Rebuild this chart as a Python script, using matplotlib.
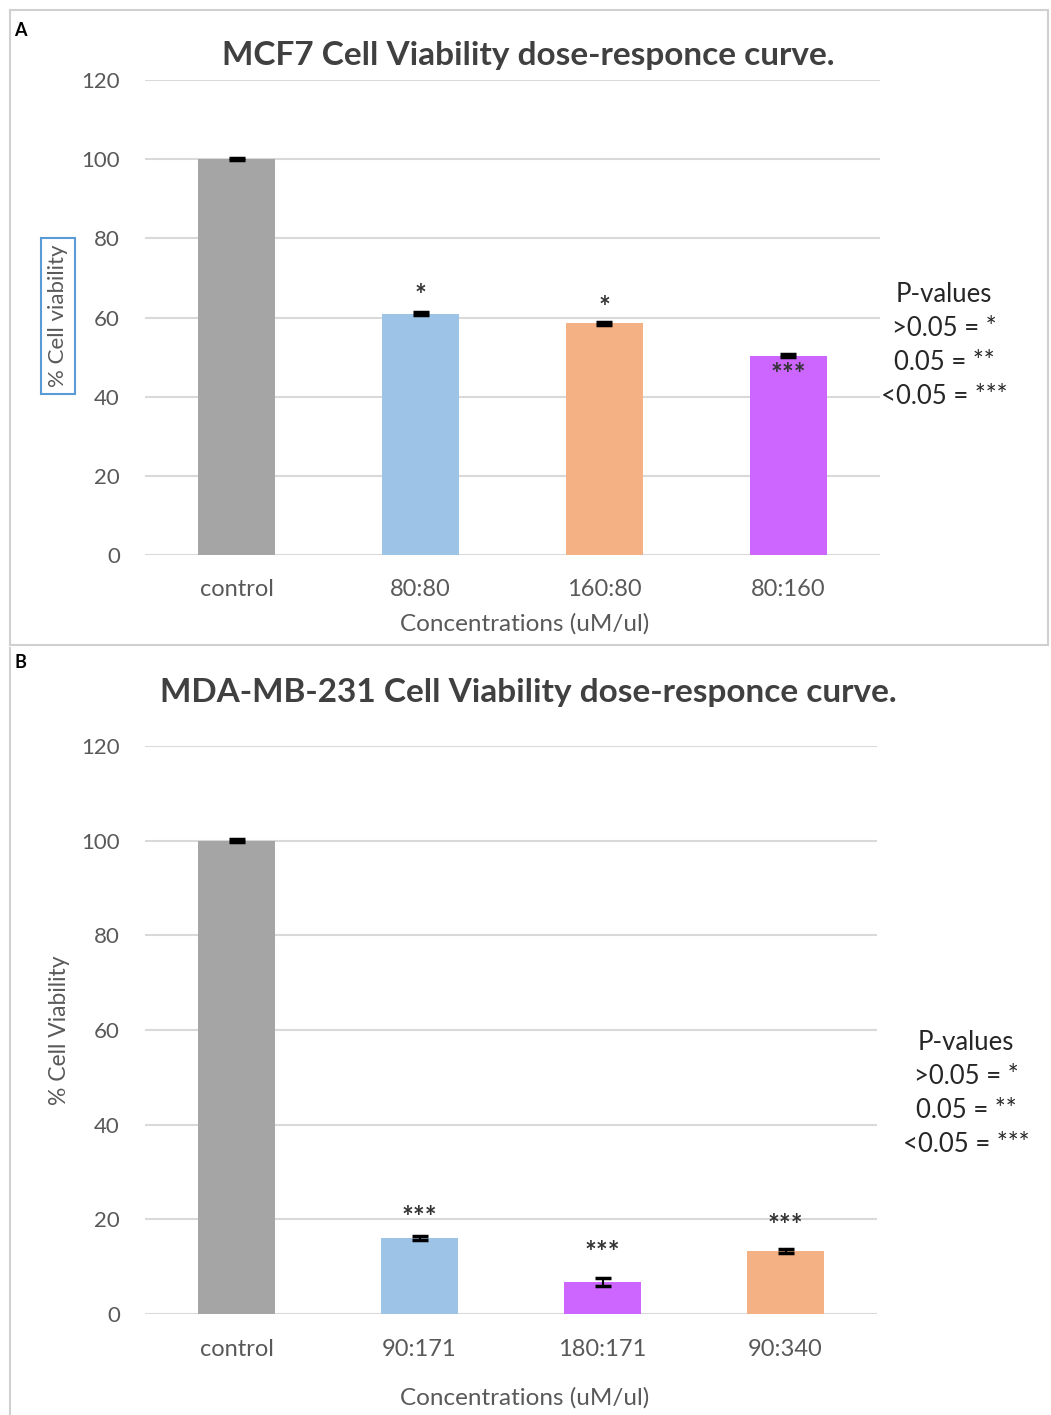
import numpy as np
import matplotlib.pyplot as plt
from matplotlib.patches import Rectangle
from matplotlib.lines import Line2D

plt.rcParams['font.family'] = ['Lato', 'DejaVu Sans']

# Panel A data (MCF7)
cats_a = ['control', '80:80', '160:80', '80:160']
vals_a = [100, 61, 58.5, 50.3]
errs_a = [0.3, 0.4, 0.4, 0.4]
sig_a = ['', '*', '*', '***']
sig_pos_a = [None, 65.5, 62.5, 45.5]

# Panel B data (MDA-MB-231)
cats_b = ['control', '90:171', '180:171', '90:340']
vals_b = [100, 16, 6.8, 13.3]
errs_b = [0.3, 0.4, 0.8, 0.4]
sig_b = ['', '***', '***', '***']
sig_pos_b = [None, 20.3, 12.9, 18.6]

colors_a = ['#a5a5a5', '#9dc3e6', '#f4b183', '#cc66ff']
colors_b = ['#a5a5a5', '#9dc3e6', '#cc66ff', '#f4b183']

pval_lines = ['P-values', '>0.05 = *', '0.05 = **', '<0.05 = ***']

W, H = 1051, 1415
fig = plt.figure(figsize=(W / 100, H / 100), dpi=100)

def fx(px):
    return px / W

def fy(py):
    return 1 - py / H

# panel frames
fig.add_artist(Rectangle((fx(10), fy(645)), fx(1038), 635 / H, transform=fig.transFigure,
                         fill=False, edgecolor='#d0d0d0', linewidth=1.5))
fig.add_artist(Line2D([fx(10), fx(10)], [fy(648), 0], transform=fig.transFigure,
                      color='#d0d0d0', linewidth=1.5))

txt_gray = '#595959'


def draw_panel(ax, cats, vals, errs, colors, sig, sig_pos, title, title_y,
               xlabel_y, catpad):
    x = np.arange(len(cats))
    ax.bar(x, vals, width=0.42, color=colors, zorder=2)
    ax.errorbar(x, vals, yerr=errs, fmt='none', ecolor='black', elinewidth=1.5,
                capsize=6, capthick=2.5, zorder=3)
    for xi, s, p in zip(x, sig, sig_pos):
        if s:
            ax.text(xi, p, s, ha='center', va='center', fontsize=20,
                    color='#333333', fontweight='bold', zorder=4)
    ax.set_xlim(-0.5, len(cats) - 0.5)
    ax.set_ylim(0, 120)
    ax.set_yticks(np.arange(0, 121, 20))
    ax.set_xticks(x)
    ax.set_xticklabels(cats)
    ax.yaxis.grid(True, color='#d9d9d9', linewidth=1.5, zorder=0)
    ax.set_axisbelow(True)
    for s in ax.spines.values():
        s.set_visible(False)
    ax.tick_params(axis='y', length=0, pad=18, labelsize=16, labelcolor=txt_gray)
    ax.tick_params(axis='x', length=0, pad=catpad, labelsize=17, labelcolor=txt_gray)
    fig.text(fx(528), fy(title_y), title, ha='center', va='center', fontsize=24,
             fontweight='bold', color='#404040')
    fig.text(fx(525), fy(xlabel_y), 'Concentrations (uM/ul)', ha='center', va='center',
             fontsize=17.5, color=txt_gray)


ax_a = fig.add_axes([fx(145), fy(555), fx(880) - fx(145), fy(80) - fy(555)])
draw_panel(ax_a, cats_a, vals_a, errs_a, colors_a, sig_a, sig_pos_a,
           'MCF7 Cell Viability dose-responce curve.', 55, 624, 17)

ax_b = fig.add_axes([fx(145), fy(1314), fx(877) - fx(145), fy(746) - fy(1314)])
draw_panel(ax_b, cats_b, vals_b, errs_b, colors_b, sig_b, sig_pos_b,
           'MDA-MB-231 Cell Viability dose-responce curve.', 692, 1398, 18)

# y labels
fig.text(fx(58), fy(316), '% Cell viability', rotation=90, ha='center', va='center',
         fontsize=16, color=txt_gray,
         bbox=dict(boxstyle='square,pad=0.3', facecolor='white', edgecolor='#5b9bd5',
                   linewidth=1.5))
fig.text(fx(60), fy(1030), '% Cell Viability', rotation=90, ha='center', va='center',
         fontsize=16.5, color=txt_gray)

# p-value legends
for i, line in enumerate(pval_lines):
    fig.text(fx(944), fy(295 + i * 34), line, ha='center', va='center', fontsize=18.5,
             color='#262626')
    fig.text(fx(966), fy(1042 + i * 34), line, ha='center', va='center', fontsize=18.5,
             color='#262626')

# panel letters
fig.text(fx(14), fy(30), 'A', ha='left', va='center', fontsize=13, fontweight='bold')
fig.text(fx(14), fy(663), 'B', ha='left', va='center', fontsize=13, fontweight='bold')

fig.savefig('out.png', dpi=100)
